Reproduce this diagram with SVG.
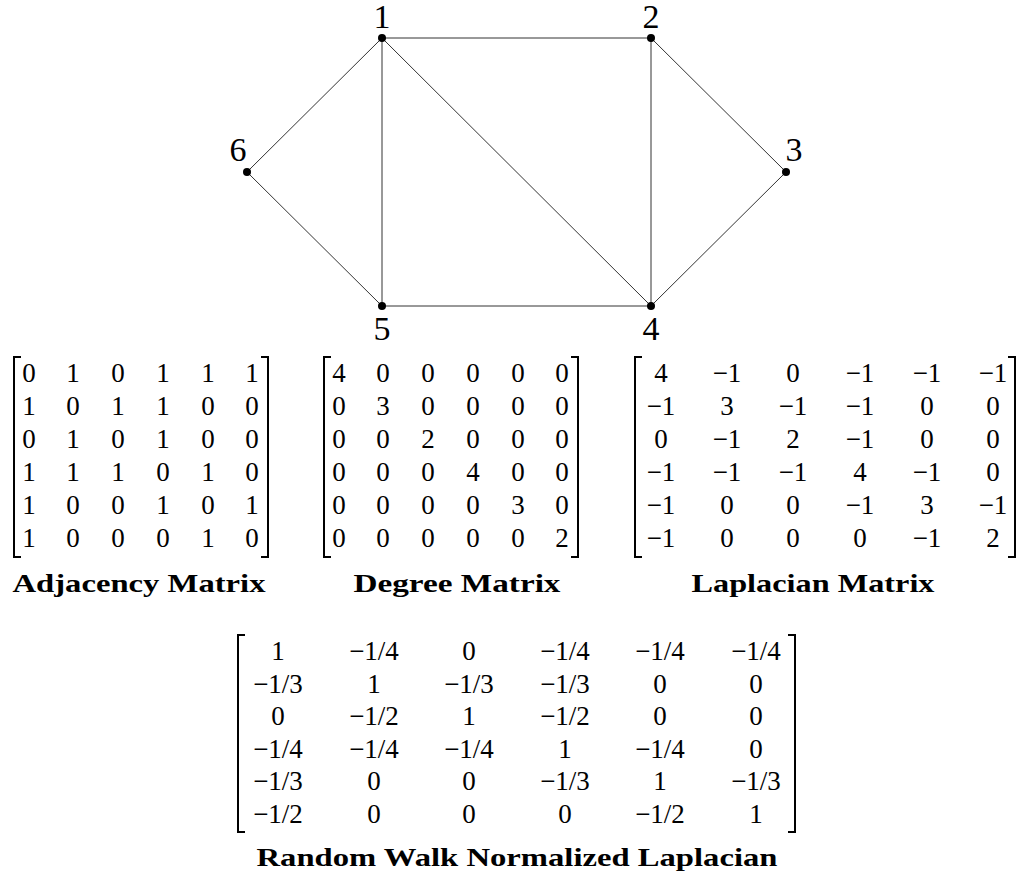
<svg xmlns="http://www.w3.org/2000/svg" width="1023" height="876" viewBox="0 0 1023 876">
<style>
.edge{stroke:#333;stroke-width:1;fill:none}
.dot{fill:#000}
.lbl{font-family:"Liberation Serif","Times New Roman",serif;font-size:34px;text-anchor:middle;fill:#000}
.m{font-family:"Liberation Serif","Times New Roman",serif;font-size:27px;text-anchor:middle;fill:#000}
.br{stroke:#000;stroke-width:2;fill:none}
.cap{font-family:"Liberation Serif","Times New Roman",serif;font-size:26px;font-weight:bold;text-anchor:middle;fill:#000}
</style>
<rect width="1023" height="876" fill="#fff"/>
<g id="connectors">
<line class="edge" x1="382" y1="38" x2="651" y2="38"/>
<line class="edge" x1="382" y1="38" x2="247" y2="172"/>
<line class="edge" x1="382" y1="38" x2="382" y2="306"/>
<line class="edge" x1="382" y1="38" x2="651" y2="306"/>
<line class="edge" x1="651" y1="38" x2="651" y2="306"/>
<line class="edge" x1="651" y1="38" x2="786" y2="172"/>
<line class="edge" x1="786" y1="172" x2="651" y2="306"/>
<line class="edge" x1="651" y1="306" x2="382" y2="306"/>
<line class="edge" x1="382" y1="306" x2="247" y2="172"/>
</g>
<g id="node1"><circle class="dot" cx="382" cy="38" r="4"/><text class="lbl" x="382" y="28">1</text></g>
<g id="node2"><circle class="dot" cx="651" cy="38" r="4"/><text class="lbl" x="651" y="28">2</text></g>
<g id="node3"><circle class="dot" cx="786" cy="172" r="4"/><text class="lbl" x="794" y="161">3</text></g>
<g id="node4"><circle class="dot" cx="651" cy="306" r="4"/><text class="lbl" x="651" y="340">4</text></g>
<g id="node5"><circle class="dot" cx="382" cy="306" r="4"/><text class="lbl" x="382" y="340">5</text></g>
<g id="node6"><circle class="dot" cx="247" cy="172" r="4"/><text class="lbl" x="238" y="161">6</text></g>

<g id="adjacency">
<path class="br" d="M21,357 H14 V557 H21"/>
<path class="br" d="M261,357 H268 V557 H261"/>
<text class="m" y="382"><tspan x="29">0</tspan><tspan x="73">1</tspan><tspan x="118">0</tspan><tspan x="163">1</tspan><tspan x="208">1</tspan><tspan x="252">1</tspan></text>
<text class="m" y="415"><tspan x="29">1</tspan><tspan x="73">0</tspan><tspan x="118">1</tspan><tspan x="163">1</tspan><tspan x="208">0</tspan><tspan x="252">0</tspan></text>
<text class="m" y="448"><tspan x="29">0</tspan><tspan x="73">1</tspan><tspan x="118">0</tspan><tspan x="163">1</tspan><tspan x="208">0</tspan><tspan x="252">0</tspan></text>
<text class="m" y="481"><tspan x="29">1</tspan><tspan x="73">1</tspan><tspan x="118">1</tspan><tspan x="163">0</tspan><tspan x="208">1</tspan><tspan x="252">0</tspan></text>
<text class="m" y="514"><tspan x="29">1</tspan><tspan x="73">0</tspan><tspan x="118">0</tspan><tspan x="163">1</tspan><tspan x="208">0</tspan><tspan x="252">1</tspan></text>
<text class="m" y="547"><tspan x="29">1</tspan><tspan x="73">0</tspan><tspan x="118">0</tspan><tspan x="163">0</tspan><tspan x="208">1</tspan><tspan x="252">0</tspan></text>
<text class="cap" x="139" y="592" textLength="253" lengthAdjust="spacingAndGlyphs">Adjacency Matrix</text>
</g>

<g id="degree">
<path class="br" d="M331,357 H324 V557 H331"/>
<path class="br" d="M571,357 H578 V557 H571"/>
<text class="m" y="382"><tspan x="339">4</tspan><tspan x="383">0</tspan><tspan x="428">0</tspan><tspan x="473">0</tspan><tspan x="518">0</tspan><tspan x="562">0</tspan></text>
<text class="m" y="415"><tspan x="339">0</tspan><tspan x="383">3</tspan><tspan x="428">0</tspan><tspan x="473">0</tspan><tspan x="518">0</tspan><tspan x="562">0</tspan></text>
<text class="m" y="448"><tspan x="339">0</tspan><tspan x="383">0</tspan><tspan x="428">2</tspan><tspan x="473">0</tspan><tspan x="518">0</tspan><tspan x="562">0</tspan></text>
<text class="m" y="481"><tspan x="339">0</tspan><tspan x="383">0</tspan><tspan x="428">0</tspan><tspan x="473">4</tspan><tspan x="518">0</tspan><tspan x="562">0</tspan></text>
<text class="m" y="514"><tspan x="339">0</tspan><tspan x="383">0</tspan><tspan x="428">0</tspan><tspan x="473">0</tspan><tspan x="518">3</tspan><tspan x="562">0</tspan></text>
<text class="m" y="547"><tspan x="339">0</tspan><tspan x="383">0</tspan><tspan x="428">0</tspan><tspan x="473">0</tspan><tspan x="518">0</tspan><tspan x="562">2</tspan></text>
<text class="cap" x="457" y="592" textLength="207" lengthAdjust="spacingAndGlyphs">Degree Matrix</text>
</g>

<g id="laplacian">
<path class="br" d="M642,357 H635 V557 H642"/>
<path class="br" d="M1008,357 H1015 V557 H1008"/>
<text class="m" y="382"><tspan x="661">4</tspan><tspan x="727">−1</tspan><tspan x="793">0</tspan><tspan x="860">−1</tspan><tspan x="927">−1</tspan><tspan x="993">−1</tspan></text>
<text class="m" y="415"><tspan x="661">−1</tspan><tspan x="727">3</tspan><tspan x="793">−1</tspan><tspan x="860">−1</tspan><tspan x="927">0</tspan><tspan x="993">0</tspan></text>
<text class="m" y="448"><tspan x="661">0</tspan><tspan x="727">−1</tspan><tspan x="793">2</tspan><tspan x="860">−1</tspan><tspan x="927">0</tspan><tspan x="993">0</tspan></text>
<text class="m" y="481"><tspan x="661">−1</tspan><tspan x="727">−1</tspan><tspan x="793">−1</tspan><tspan x="860">4</tspan><tspan x="927">−1</tspan><tspan x="993">0</tspan></text>
<text class="m" y="514"><tspan x="661">−1</tspan><tspan x="727">0</tspan><tspan x="793">0</tspan><tspan x="860">−1</tspan><tspan x="927">3</tspan><tspan x="993">−1</tspan></text>
<text class="m" y="547"><tspan x="661">−1</tspan><tspan x="727">0</tspan><tspan x="793">0</tspan><tspan x="860">0</tspan><tspan x="927">−1</tspan><tspan x="993">2</tspan></text>
<text class="cap" x="813" y="592" textLength="243" lengthAdjust="spacingAndGlyphs">Laplacian Matrix</text>
</g>

<g id="random-walk">
<path class="br" d="M245,635 H238 V832 H245"/>
<path class="br" d="M788,635 H795 V832 H788"/>
<text class="m" y="660"><tspan x="278">1</tspan><tspan x="374">−1/4</tspan><tspan x="469">0</tspan><tspan x="565">−1/4</tspan><tspan x="660">−1/4</tspan><tspan x="756">−1/4</tspan></text>
<text class="m" y="692.6"><tspan x="278">−1/3</tspan><tspan x="374">1</tspan><tspan x="469">−1/3</tspan><tspan x="565">−1/3</tspan><tspan x="660">0</tspan><tspan x="756">0</tspan></text>
<text class="m" y="725.2"><tspan x="278">0</tspan><tspan x="374">−1/2</tspan><tspan x="469">1</tspan><tspan x="565">−1/2</tspan><tspan x="660">0</tspan><tspan x="756">0</tspan></text>
<text class="m" y="757.8"><tspan x="278">−1/4</tspan><tspan x="374">−1/4</tspan><tspan x="469">−1/4</tspan><tspan x="565">1</tspan><tspan x="660">−1/4</tspan><tspan x="756">0</tspan></text>
<text class="m" y="790.4"><tspan x="278">−1/3</tspan><tspan x="374">0</tspan><tspan x="469">0</tspan><tspan x="565">−1/3</tspan><tspan x="660">1</tspan><tspan x="756">−1/3</tspan></text>
<text class="m" y="823"><tspan x="278">−1/2</tspan><tspan x="374">0</tspan><tspan x="469">0</tspan><tspan x="565">0</tspan><tspan x="660">−1/2</tspan><tspan x="756">1</tspan></text>
<text class="cap" x="517" y="866" textLength="521" lengthAdjust="spacingAndGlyphs">Random Walk Normalized Laplacian</text>
</g>
</svg>
